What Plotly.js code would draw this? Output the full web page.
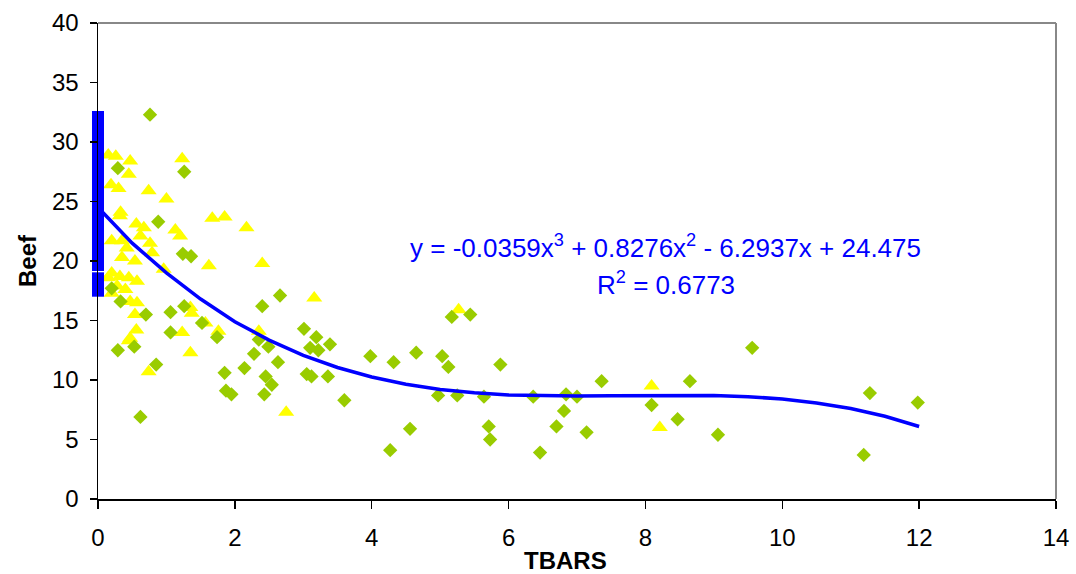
<!DOCTYPE html>
<html>
<head>
<meta charset="utf-8">
<script src="https://cdn.plot.ly/plotly-3.0.1.min.js"></script>
<style>html,body{margin:0;padding:0;background:#fff;}#chart{width:1076px;height:574px;}</style>
</head>
<body>
<div id="chart"></div>
<script>
// Green diamond series
const greenX = [0.76,1.26,0.29,0.88,1.24,1.36,0.20,0.33,0.70,1.06,1.26,1.52,1.06,1.74,0.29,0.53,0.85,1.85,1.87,1.95,0.62,2.14,2.66,2.40,3.01,3.19,3.39,3.10,3.22,2.35,2.49,2.28,2.63,3.98,4.32,2.45,2.54,3.05,3.12,3.36,2.43,3.60,5.17,5.44,4.65,5.03,5.12,5.88,7.36,4.97,5.25,5.64,6.36,6.84,7.00,6.81,4.56,5.71,5.73,6.70,7.14,4.27,6.46,9.56,8.65,8.09,8.47,9.06,11.28,11.98,11.19];
const greenY = [32.3,27.5,27.8,23.3,20.6,20.4,17.7,16.6,15.5,15.7,16.2,14.8,14.0,13.6,12.5,12.8,11.3,10.6,9.1,8.8,6.9,11.0,17.1,16.2,14.3,13.6,13.0,12.7,12.5,13.4,12.8,12.2,11.5,12.0,11.5,10.3,9.6,10.5,10.3,10.3,8.8,8.3,15.3,15.5,12.3,12.0,11.1,11.3,9.9,8.7,8.7,8.6,8.6,8.8,8.6,7.4,5.9,6.1,5.0,6.1,5.6,4.1,3.9,12.7,9.9,7.9,6.7,5.4,8.9,8.1,3.7];
// Yellow triangle series
const yellowX = [0.15,0.26,0.47,1.23,0.45,0.19,0.30,0.74,1.00,0.33,1.67,1.85,2.17,0.32,0.56,0.67,0.62,0.76,1.13,1.20,0.20,0.35,0.42,0.35,0.54,0.79,0.96,1.62,2.40,0.20,0.15,0.32,0.45,0.57,0.28,0.40,0.20,0.47,0.57,1.35,1.37,0.54,1.57,1.76,1.23,0.56,0.47,0.45,1.35,0.74,3.16,2.35,2.75,5.27,8.09,8.21];
const yellowY = [28.9,28.8,28.4,28.6,27.3,26.4,26.1,25.9,25.2,24.1,23.6,23.7,22.8,23.8,23.1,22.8,22.1,21.5,22.6,22.1,21.7,21.7,21.1,20.3,20.0,20.7,19.3,19.6,19.8,19.0,18.6,18.7,18.6,18.3,17.9,17.6,17.3,16.6,16.5,16.1,15.6,15.5,14.8,14.1,14.0,14.2,13.5,13.3,12.3,10.7,16.9,14.1,7.3,15.9,9.5,6.0];
// Blue bar at x = 0 (segments: top and bottom values)
const blueX = [0, 0];
const blueTop = [32.6, 19.05];
const blueBottom = [19.15, 17.0];
// Trend line
const trendX = [0.05,0.5,1,1.5,2,2.5,3,3.5,4,4.5,5,5.5,6,6.5,7,7.5,8,8.5,9,9.5,10,10.5,11,11.5,12];
const trendY = [24.2,21.5,19.0,16.8,14.9,13.35,12.07,11.05,10.25,9.64,9.21,8.92,8.75,8.67,8.66,8.68,8.71,8.72,8.70,8.60,8.40,8.07,7.61,6.95,6.09];
const eqText = 'y = -0.0359x<sup>3</sup> + 0.8276x<sup>2</sup> - 6.2937x + 24.475';
const r2Text = 'R<sup>2</sup> = 0.6773';
const xTitle = 'TBARS';
const yTitle = 'Beef';

const FONT = 'Liberation Sans, Arial, sans-serif';
const W = 1076, H = 574;
const M = {l: 98, r: 20, t: 23, b: 75};
const yRange = [0, 40];
const pxPerUnit = (H - M.t - M.b) / (yRange[1] - yRange[0]);

// line-ns marker length is 1.4 * size
const blueMid = blueTop.map((t, i) => (t + blueBottom[i]) / 2);
const blueSize = blueTop.map((t, i) => (t - blueBottom[i]) * pxPerUnit / 1.4);

const traces = [
  {x: yellowX, y: yellowY, type: 'scatter', mode: 'markers', name: 'yellow',
   marker: {symbol: 'triangle-up', size: 14, color: '#FFFF00', opacity: 1, line: {width: 0}}},
  {x: greenX, y: greenY, type: 'scatter', mode: 'markers', name: 'green',
   marker: {symbol: 'diamond', size: 11, color: '#99CC00', opacity: 1, line: {width: 0}}},
  {x: trendX, y: trendY, type: 'scatter', mode: 'lines', name: 'trend',
   line: {color: '#0000FF', width: 3.5}},
  {x: blueX, y: blueMid, type: 'scatter', mode: 'markers', name: 'blue', cliponaxis: false,
   marker: {symbol: 'line-ns', size: blueSize, sizemode: 'diameter', opacity: 1,
            color: '#0000FF', line: {color: '#0000FF', width: 12}}}
];

const layout = {
  width: W, height: H,
  margin: M,
  paper_bgcolor: '#fff', plot_bgcolor: '#fff',
  showlegend: false,
  font: {family: FONT, color: '#000'},
  xaxis: {
    range: [0, 14], dtick: 2, tick0: 0,
    showgrid: false, zeroline: false,
    showline: true, linecolor: '#000', linewidth: 1.5,
    ticks: 'outside', ticklen: 8, tickwidth: 1.5, tickcolor: '#000',
    ticklabelstandoff: 9,
    tickfont: {family: FONT, size: 24, color: '#000'}
  },
  yaxis: {
    range: yRange, dtick: 5, tick0: 0,
    showgrid: false, zeroline: false,
    showline: true, linecolor: '#000', linewidth: 1.5,
    ticks: 'outside', ticklen: 7, tickwidth: 1.5, tickcolor: '#000',
    ticklabelstandoff: 6,
    tickfont: {family: FONT, size: 24, color: '#000'},
    title: {text: '<b>' + yTitle + '</b>', font: {family: FONT, size: 24, color: '#000'}, standoff: 8}
  },
  shapes: [
    {type: 'line', xref: 'paper', yref: 'paper', x0: 0, x1: 1, y0: 1, y1: 1, line: {color: '#888888', width: 2}},
    {type: 'line', xref: 'paper', yref: 'paper', x0: 1, x1: 1, y0: 0, y1: 1, line: {color: '#888888', width: 2}}
  ],
  annotations: [
    {x: 8.30, y: 21.26, xref: 'x', yref: 'y', text: eqText, showarrow: false,
     font: {family: FONT, size: 26, color: '#0000FF'}},
    {x: 8.30, y: 18.15, xref: 'x', yref: 'y', text: r2Text, showarrow: false,
     font: {family: FONT, size: 26, color: '#0000FF'}},
    {x: 0.4876, y: -0.13, xref: 'paper', yref: 'paper', text: '<b>' + xTitle + '</b>', showarrow: false,
     xanchor: 'center', yanchor: 'middle',
     font: {family: FONT, size: 24, color: '#000'}}
  ]
};

Plotly.newPlot('chart', traces, layout, {displayModeBar: false, staticPlot: true});
</script>
</body>
</html>
